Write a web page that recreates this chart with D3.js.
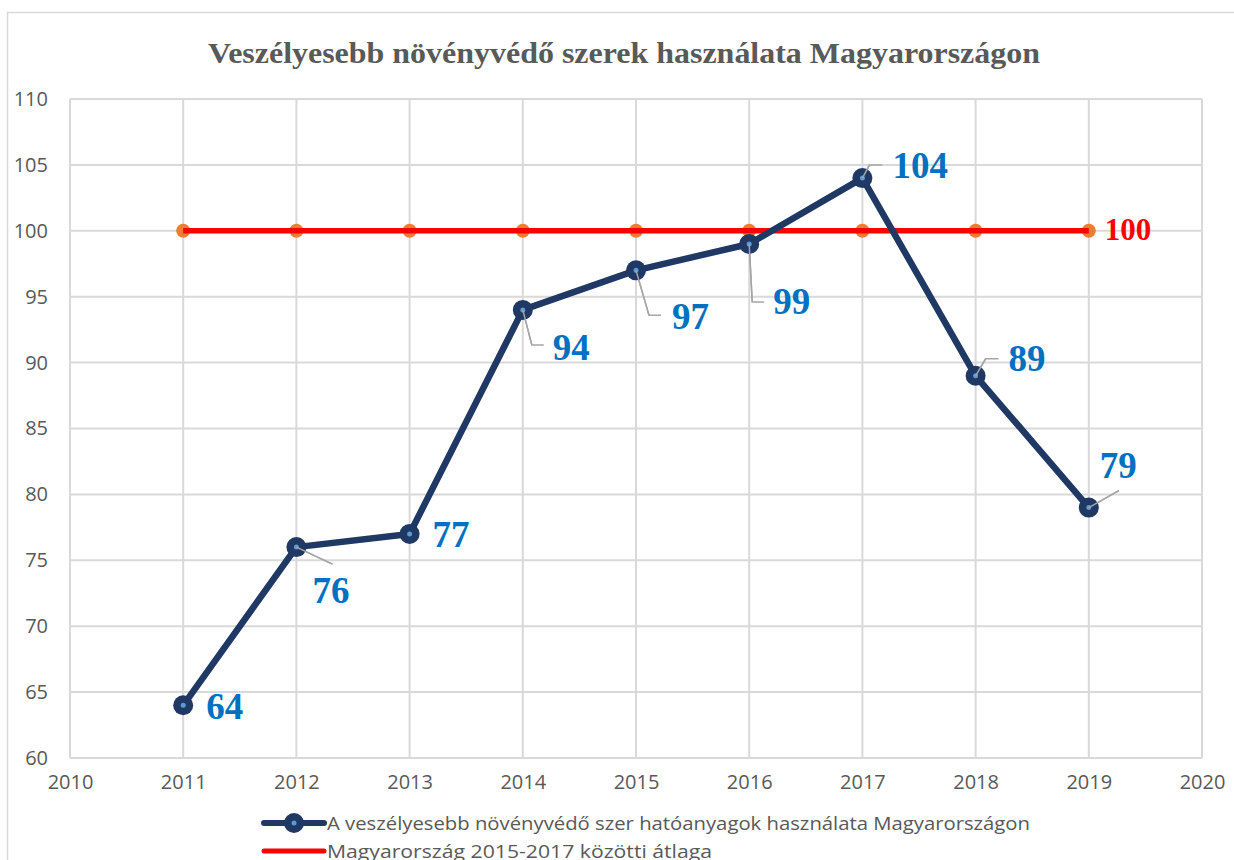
<!DOCTYPE html>
<html>
<head>
<meta charset="utf-8">
<script src="https://cdn.jsdelivr.net/npm/d3@7"></script>
<style>
  body { margin: 0; background: #fff; }
  svg { display: block; }
</style>
</head>
<body>
<div id="chart"></div>
<script>
// chart data
const years = [2011, 2012, 2013, 2014, 2015, 2016, 2017, 2018, 2019];
const usage = [64, 76, 77, 94, 97, 99, 104, 89, 79];
const average = [100, 100, 100, 100, 100, 100, 100, 100, 100];
const xTicks = [2010, 2011, 2012, 2013, 2014, 2015, 2016, 2017, 2018, 2019, 2020];
const yTicks = [60, 65, 70, 75, 80, 85, 90, 95, 100, 105, 110];
const titleText = "Veszélyesebb növényvédő szerek használata Magyarországon";
const legendNames = ["A veszélyesebb növényvédő szer hatóanyagok  használata Magyarországon",
                     "Magyarország 2015-2017 közötti átlaga"];

// label placement (pixel offsets from each point) and leader lines
const labelOffsets = [
  {dx: 23, dy: 14, leader: null},
  {dx: 16, dy: 56, leader: [[0, 0], [36, 17]]},
  {dx: 23, dy: 13, leader: null},
  {dx: 30, dy: 50, leader: [[0, 0], [9, 35], [21, 35]]},
  {dx: 36, dy: 59, leader: [[0, 0], [13, 45], [25, 45]]},
  {dx: 24, dy: 70, leader: [[0, 0], [3, 58], [15, 58]]},
  {dx: 30, dy: 0, leader: [[0, 0], [7, -13], [20, -13]]},
  {dx: 33, dy: -5, leader: [[0, 0], [10, -17], [23, -17]]},
  {dx: 11, dy: -30, leader: [[0, 0], [30, -17]]}
];

const width = 1234, height = 860;
const margin = {top: 99, right: 32, bottom: 102, left: 70};

const svg = d3.select("#chart").append("svg")
  .attr("width", width)
  .attr("height", height);

// outer chart border
svg.append("rect")
  .attr("x", 7.5).attr("y", 12.5)
  .attr("width", 1300).attr("height", 1000)
  .attr("fill", "#fff")
  .attr("stroke", "#d9d9d9")
  .attr("stroke-width", 1.5);

const x = d3.scaleLinear().domain([2010, 2020]).range([margin.left, width - margin.right]);
const y = d3.scaleLinear().domain([60, 110]).range([height - margin.bottom, margin.top]);

// title
svg.append("text")
  .attr("x", 624).attr("y", 63)
  .attr("text-anchor", "middle")
  .attr("font-family", "Liberation Serif, Times New Roman, serif")
  .attr("font-weight", "bold")
  .attr("font-size", "30px")
  .attr("fill", "#595959")
  .attr("textLength", 832)
  .attr("lengthAdjust", "spacingAndGlyphs")
  .text(titleText);

// gridlines
svg.append("g")
  .selectAll("line.h")
  .data(yTicks)
  .enter().append("line")
  .attr("x1", x(2010)).attr("x2", x(2020))
  .attr("y1", d => y(d)).attr("y2", d => y(d))
  .attr("stroke", "#d9d9d9").attr("stroke-width", 2);

svg.append("g")
  .selectAll("line.v")
  .data(xTicks)
  .enter().append("line")
  .attr("x1", d => x(d)).attr("x2", d => x(d))
  .attr("y1", y(60)).attr("y2", y(110))
  .attr("stroke", "#d9d9d9").attr("stroke-width", 2);

// axes (labels only)
const yAxis = svg.append("g")
  .attr("transform", `translate(${margin.left},0)`)
  .call(d3.axisLeft(y).tickValues(yTicks).tickSize(0).tickPadding(22));
const xAxis = svg.append("g")
  .attr("transform", `translate(0,${height - margin.bottom})`)
  .call(d3.axisBottom(x).tickValues(xTicks).tickSize(0).tickPadding(17).tickFormat(d3.format("d")));

[yAxis, xAxis].forEach(a => {
  a.select(".domain").remove();
  a.selectAll("text")
    .attr("font-family", "Open Sans, sans-serif")
    .attr("font-size", "20px")
    .attr("fill", "#595959");
});

// average series (red line with orange markers)
const avgLine = d3.line().x((d, i) => x(years[i])).y(d => y(d));
svg.append("g").selectAll("circle")
  .data(average)
  .enter().append("circle")
  .attr("cx", (d, i) => x(years[i]))
  .attr("cy", d => y(d))
  .attr("r", 7)
  .attr("fill", "#ed7d31");
svg.append("path")
  .datum(average)
  .attr("d", avgLine)
  .attr("fill", "none")
  .attr("stroke", "#ff0000")
  .attr("stroke-width", 5.5);

// leader lines
svg.append("g").selectAll("polyline")
  .data(labelOffsets.map((o, i) => ({o, i})).filter(d => d.o.leader))
  .enter().append("polyline")
  .attr("points", d => d.o.leader.map(p => [x(years[d.i]) + p[0], y(usage[d.i]) + p[1]].join(",")).join(" "))
  .attr("fill", "none")
  .attr("stroke", "#a6a6a6")
  .attr("stroke-width", 1.5);

// usage series
const useLine = d3.line().x((d, i) => x(years[i])).y(d => y(d));
svg.append("path")
  .datum(usage)
  .attr("d", useLine)
  .attr("fill", "none")
  .attr("stroke", "#1f3864")
  .attr("stroke-width", 6.5)
  .attr("stroke-linejoin", "round");

const markers = svg.append("g").selectAll("g")
  .data(usage)
  .enter().append("g")
  .attr("transform", (d, i) => `translate(${x(years[i])},${y(d)})`);
markers.append("circle").attr("r", 10).attr("fill", "#1f3864");
markers.append("circle").attr("r", 2.5).attr("fill", "#5b9bd5");

// leader lines visible over markers
svg.append("g").selectAll("polyline")
  .data(labelOffsets.map((o, i) => ({o, i})).filter(d => d.o.leader))
  .enter().append("polyline")
  .attr("points", d => d.o.leader.slice(0, 2).map(p => [x(years[d.i]) + p[0], y(usage[d.i]) + p[1]].join(",")).join(" "))
  .attr("fill", "none")
  .attr("stroke", "#a6a6a6")
  .attr("stroke-width", 1.5);

// data labels
svg.append("g").selectAll("text")
  .data(usage)
  .enter().append("text")
  .attr("x", (d, i) => x(years[i]) + labelOffsets[i].dx)
  .attr("y", (d, i) => y(d) + labelOffsets[i].dy)
  .attr("font-family", "Liberation Serif, Times New Roman, serif")
  .attr("font-weight", "bold")
  .attr("font-size", "37px")
  .attr("fill", "#0070c0")
  .text(d => d);

svg.append("text")
  .attr("x", x(years[years.length - 1]) + 16)
  .attr("y", y(average[average.length - 1]) + 9)
  .attr("font-family", "Liberation Serif, Times New Roman, serif")
  .attr("font-weight", "bold")
  .attr("font-size", "31px")
  .attr("fill", "#ff0000")
  .text(average[average.length - 1]);

// legend
const legend = svg.append("g");
legend.append("line")
  .attr("x1", 264).attr("x2", 324).attr("y1", 823).attr("y2", 823)
  .attr("stroke", "#1f3864").attr("stroke-width", 6).attr("stroke-linecap", "round");
legend.append("circle").attr("cx", 294).attr("cy", 823).attr("r", 10).attr("fill", "#1f3864");
legend.append("circle").attr("cx", 294).attr("cy", 823).attr("r", 2.5).attr("fill", "#5b9bd5");
legend.append("line")
  .attr("x1", 264).attr("x2", 324).attr("y1", 851).attr("y2", 851)
  .attr("stroke", "#ff0000").attr("stroke-width", 5).attr("stroke-linecap", "round");

legend.selectAll("text")
  .data(legendNames)
  .enter().append("text")
  .attr("x", 327)
  .attr("y", (d, i) => 830 + i * 28)
  .attr("font-family", "Open Sans, sans-serif")
  .attr("font-size", "19px")
  .attr("fill", "#595959")
  .attr("textLength", (d, i) => i === 0 ? 703 : 385)
  .attr("lengthAdjust", "spacingAndGlyphs")
  .text(d => d);
</script>
</body>
</html>
